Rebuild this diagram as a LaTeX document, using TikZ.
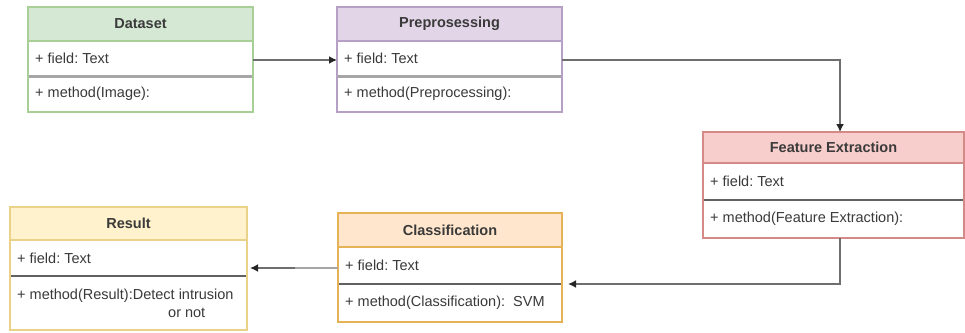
\documentclass[tikz,border=0pt]{standalone}
\usepackage{fontspec}
\setmainfont{Liberation Sans}
\usetikzlibrary{arrows.meta}
\definecolor{gfill}{HTML}{D5E8D4}\definecolor{gdraw}{HTML}{A8CF96}
\definecolor{pfill}{HTML}{E1D5E7}\definecolor{pdraw}{HTML}{B7A0C6}
\definecolor{rfill}{HTML}{F8CECC}\definecolor{rdraw}{HTML}{D48A87}
\definecolor{ofill}{HTML}{FFE6CC}\definecolor{odraw}{HTML}{E5B356}
\definecolor{yfill}{HTML}{FFF2CC}\definecolor{ydraw}{HTML}{EBD289}
\definecolor{txt}{HTML}{3A3A3A}
\definecolor{edge}{HTML}{6E6E6E}
\frenchspacing
\begin{document}
\begin{tikzpicture}[x=1pt,y=-1pt,
  part/.style={draw, rectangle, anchor=north west, inner sep=0pt, outer sep=0pt, line width=1.3pt},
  hdr/.style={part, font=\fontsize{14.5}{17}\selectfont\bfseries, text=txt},
  row/.style={part, fill=white},
  lbl/.style={anchor=west, inner sep=0pt, font=\fontsize{14.5}{17}\selectfont, text=txt, align=left},
  thickdiv/.style={draw=black!35, line width=3pt},
  thindiv/.style={draw=black!62, line width=1.5pt},
  conn/.style={draw=edge, line width=1.6pt, -{Latex[length=8pt,width=8pt,color=black!85]}},
]
\useasboundingbox (0,0) rectangle (965,332);

% Dataset
\node[hdr, fill=gfill, draw=gdraw, minimum width=225pt, minimum height=34pt] (dsh) at (28,7) {Dataset};
\node[row, draw=gdraw, minimum width=225pt, minimum height=35pt] (dsf) at (dsh.south west) {};
\node[row, draw=gdraw, minimum width=225pt, minimum height=36pt] (dsm) at (dsf.south west) {};
\draw[thickdiv] ([xshift=0.7pt]dsf.south west) -- ([xshift=-0.7pt]dsf.south east);
\node[lbl] (dsft) at ([xshift=7pt]dsf.west) {+ field: Text};
\node[lbl] (dsmt) at ([xshift=7pt]dsm.west) {+ method(Image):};

% Preprocessing
\node[hdr, fill=pfill, draw=pdraw, minimum width=225pt, minimum height=34pt] (pph) at (337,7) {Preprosessing};
\node[row, draw=pdraw, minimum width=225pt, minimum height=35pt] (ppf) at (pph.south west) {};
\node[row, draw=pdraw, minimum width=225pt, minimum height=36pt] (ppm) at (ppf.south west) {};
\draw[thickdiv] ([xshift=0.7pt]ppf.south west) -- ([xshift=-0.7pt]ppf.south east);
\node[lbl] (ppft) at ([xshift=7pt]ppf.west) {+ field: Text};
\node[lbl] (ppmt) at ([xshift=7pt]ppm.west) {+ method(Preprocessing):};

% Feature Extraction
\node[hdr, fill=rfill, draw=rdraw, minimum width=261pt, minimum height=31pt] (feh) at (703,132) {Feature Extraction};
\node[row, draw=rdraw, minimum width=261pt, minimum height=37pt] (fef) at (feh.south west) {};
\node[row, draw=rdraw, minimum width=261pt, minimum height=38pt] (fem) at (fef.south west) {};
\draw[thindiv] ([xshift=0.7pt]fef.south west) -- ([xshift=-0.7pt]fef.south east);
\node[lbl] (feft) at ([xshift=7pt]fef.west) {+ field: Text};
\node[lbl] (femt) at ([xshift=7pt]fem.west) {+ method(Feature Extraction):};

% Classification
\node[hdr, fill=ofill, draw=odraw, minimum width=224pt, minimum height=34pt] (clh) at (338,213) {Classification};
\node[row, draw=odraw, minimum width=224pt, minimum height=37pt] (clf) at (clh.south west) {};
\node[row, draw=odraw, minimum width=224pt, minimum height=38pt] (clm) at (clf.south west) {};
\draw[thindiv] ([xshift=0.7pt]clf.south west) -- ([xshift=-0.7pt]clf.south east);
\node[lbl] (clft) at ([xshift=7pt]clf.west) {+ field: Text};
\node[lbl] (clmt) at ([xshift=7pt]clm.west) {+ method(Classification):\ \ SVM};

% Result
\node[hdr, fill=yfill, draw=ydraw, minimum width=237pt, minimum height=33pt] (rsh) at (10,207) {Result};
\node[row, draw=ydraw, minimum width=237pt, minimum height=36pt] (rsf) at (rsh.south west) {};
\node[row, draw=ydraw, minimum width=237pt, minimum height=54pt] (rsm) at (rsf.south west) {};
\draw[thindiv] ([xshift=0.7pt]rsf.south west) -- ([xshift=-0.7pt]rsf.south east);
\node[lbl] (rsft) at ([xshift=7pt]rsf.west) {+ field: Text};
\node[lbl, align=left] (rsmt) at ([xshift=7pt]rsm.west) {+ method(Result):Detect intrusion\\[1pt]\hspace*{151pt}or not};

% connectors
\coordinate (rowy) at (0,60);
\draw[conn] (dsf.east |- rowy) -- (ppf.west |- rowy);
\coordinate (ppturn) at (840,60);
\draw[conn] (ppf.east |- ppturn) -- (ppturn) -- (ppturn |- feh.north);
\coordinate (feturn) at (840,284);
\draw[conn] (fem.south -| feturn) -- (feturn) -- ([xshift=6pt]clf.south east);
\coordinate (clmid) at (295,268);
\draw[draw=black!35, line width=1.6pt] (clf.west |- clmid) -- (clmid);
\draw[conn] (clmid) -- ([xshift=3pt]rsf.east |- clmid);
\end{tikzpicture}
\end{document}
